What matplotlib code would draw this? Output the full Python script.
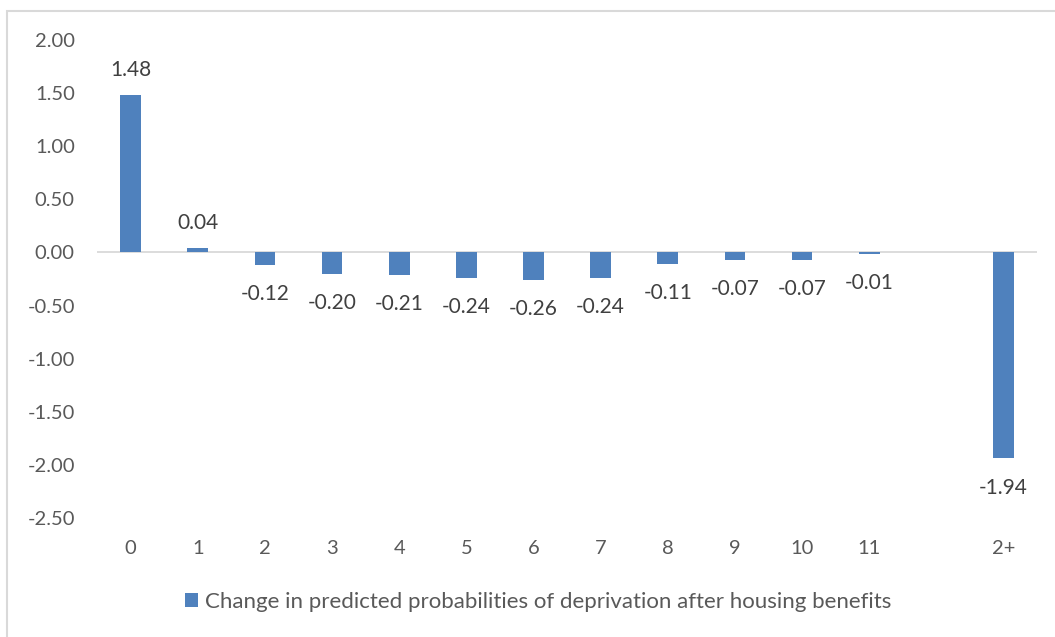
import numpy as np
import matplotlib
matplotlib.use("Agg")
import matplotlib.pyplot as plt
import matplotlib.patches as patches

plt.rcParams['font.family'] = ['Lato', 'DejaVu Sans']

# categories (one empty slot before the last group, as in the source chart)
CATEGORIES = ["0", "1", "2", "3", "4", "5", "6", "7", "8", "9", "10", "11", "", "2+"]
VALUES = [1.48, 0.04, -0.12, -0.20, -0.21, -0.24, -0.26, -0.24, -0.11, -0.07, -0.07, -0.01, np.nan, -1.94]
SERIES_NAME = "Change in predicted probabilities of deprivation after housing benefits"
Y_TICKS = [2.0, 1.5, 1.0, 0.5, 0.0, -0.5, -1.0, -1.5, -2.0, -2.5]

BAR_COLOR = "#4F81BD"
TEXT_COLOR = "#595959"
LINE_COLOR = "#D9D9D9"

fig = plt.figure(figsize=(10.55, 6.37), dpi=100)
ax = fig.add_axes([0.092, 0.187, 0.891, 0.750])

x = np.arange(len(CATEGORIES))
vals = np.array(VALUES, dtype=float)
bars = ax.bar(x, np.nan_to_num(vals), width=0.31, color=BAR_COLOR, label=SERIES_NAME, zorder=3)

# data labels outside the bar ends
for xi, v in zip(x, vals):
    if np.isnan(v):
        continue
    off = 18 if v >= 0 else -21
    ax.annotate(f"{v:.2f}", (xi, v), xytext=(0, off), textcoords="offset points",
                ha="center", va="center", fontsize=15, color="#404040")

ax.set_xlim(-0.5, len(CATEGORIES) - 0.5)
ax.set_ylim(-2.5, 2.0)
ax.set_yticks(Y_TICKS)
ax.set_yticklabels([f"{t:.2f}" for t in Y_TICKS])
ax.set_xticks(x)
ax.set_xticklabels(CATEGORIES)
ax.tick_params(axis="y", length=0, pad=16, labelsize=14.5, labelcolor=TEXT_COLOR)
ax.tick_params(axis="x", length=0, pad=16, labelsize=14.5, labelcolor=TEXT_COLOR)
for s in ax.spines.values():
    s.set_visible(False)
ax.axhline(0, color=LINE_COLOR, linewidth=1.3, zorder=2)

leg = fig.legend(handles=[bars], labels=[SERIES_NAME], loc="center", bbox_to_anchor=(0.51, 0.055),
                 frameon=False, fontsize=16, handlelength=0.6, handleheight=0.6, handletextpad=0.3)
for t in leg.get_texts():
    t.set_color(TEXT_COLOR)

# chart border (only top and left edges visible in the crop)
fig.patches.append(patches.Rectangle((7 / 1055, -0.1), 1.2, 1 - 10.5 / 637 + 0.1,
                                     transform=fig.transFigure, fill=False,
                                     edgecolor=LINE_COLOR, linewidth=1.5))

fig.savefig("out.png", dpi=100)
